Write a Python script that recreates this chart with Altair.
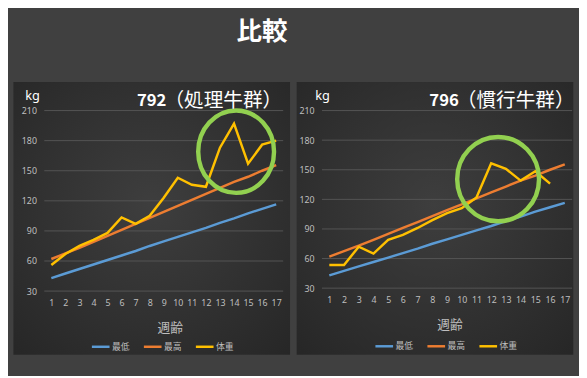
import altair as alt
import pandas as pd

# ---------------- data ----------------
weeks = list(range(1, 18))
low_kg = [43, 47.5, 52, 56.5, 61, 65.5, 70, 75, 79.5, 84, 88.5, 93, 98, 102.5, 107.5, 112, 116.5]
high_kg = [62, 67.5, 73, 79, 85, 91, 97, 103, 109, 115, 121, 127, 133, 139, 144, 150, 155.5]

weeks_792 = list(range(1, 18))
body_792 = [56, 67, 75, 81, 88, 103.5, 97, 105, 123, 143, 136, 134, 173, 197, 157, 176, 180]

weeks_796 = list(range(1, 17))
body_796 = [53.5, 53.5, 72, 65, 79, 84, 91, 99, 106, 111, 122, 156.5, 151, 139, 148.5, 136]

series_names = ["最低", "最高", "体重"]
series_colors = ["#5b9bd5", "#ed7d31", "#ffc000"]
y_ticks = [30, 60, 90, 120, 150, 180, 210]

circle_792_week = [14.15]
circle_792_kg = [169]
circle_796_week = [12.47]
circle_796_kg = [140.5]

CJK = "Noto Sans CJK JP"
LABEL = "#bfbfbf"


def panel(b_weeks, b_vals, W, H, num, rest, num_x, kg_x, c_week, c_kg, c_size, c_ratio,
          axis_title_x, leg_x, leg_y, bg_l, bg_r, bg_b):
    rows = []
    for w, v in zip(weeks, low_kg):
        rows.append({"week": w, "kg": v, "series": "最低"})
    for w, v in zip(weeks, high_kg):
        rows.append({"week": w, "kg": v, "series": "最高"})
    for w, v in zip(b_weeks, b_vals):
        rows.append({"week": w, "kg": v, "series": "体重"})
    df = pd.DataFrame(rows)

    xscale = alt.Scale(domain=[0.5, 17.5], nice=False, zero=False)
    yscale = alt.Scale(domain=[30, 210], nice=False, zero=False)
    xaxis = alt.Axis(values=weeks, grid=False, domain=False, ticks=False, zindex=1,
                     labelPadding=8, labelFontSize=9, labelColor=LABEL,
                     labelFont="Noto Sans", labelFlush=False, labelOverlap=False,
                     title="週齢", titleFont=CJK, titleFontSize=13,
                     titleFontWeight="normal", titleColor=LABEL,
                     titleY=37, titleX=axis_title_x, titleBaseline="middle")
    yaxis = alt.Axis(values=y_ticks, grid=False, domain=False, ticks=False, zindex=1,
                     labelPadding=8, labelFontSize=9, labelColor=LABEL,
                     labelFont="Noto Sans", labelFlush=False, title=None)
    xenc = alt.X("week:Q", scale=xscale, axis=xaxis)
    yenc = alt.Y("kg:Q", scale=yscale, axis=yaxis)

    grad = alt.RadialGradient(
        gradient="radial",
        stops=[alt.GradientStop(color="#3e3e3e", offset=0),
               alt.GradientStop(color="#262626", offset=1)],
        x1=0.5, y1=0.45, r1=0, x2=0.5, y2=0.45, r2=0.75,
    )
    bg = alt.Chart(pd.DataFrame({"a": [0]})).mark_rect(fill=grad, strokeWidth=0).encode(
        x=alt.value(bg_l), x2=alt.value(W + bg_r), y=alt.value(-29), y2=alt.value(H + bg_b)
    )

    grid = alt.Chart(pd.DataFrame({"kg": y_ticks})).mark_rule(
        color="#555555", strokeWidth=1
    ).encode(y=yenc, x=alt.value(0), x2=alt.value(W))

    lines = alt.Chart(df).mark_line(strokeWidth=2.5).encode(
        x=xenc,
        y=yenc,
        color=alt.Color("series:N",
                        scale=alt.Scale(domain=series_names, range=series_colors),
                        legend=alt.Legend(orient="none", legendX=leg_x, legendY=leg_y,
                                          direction="horizontal", title=None,
                                          symbolType="stroke", symbolSize=324,
                                          symbolStrokeWidth=2.5, labelFontSize=9,
                                          labelColor=LABEL, labelFont=CJK,
                                          columnPadding=8, labelOffset=1, padding=0)),
    )

    r = c_ratio
    ellipse = f"M -{r} 0 A {r} 1 0 1 1 {r} 0 A {r} 1 0 1 1 -{r} 0 Z"
    circ = alt.Chart(pd.DataFrame({"week": c_week, "kg": c_kg})).mark_point(
        shape=ellipse, filled=False, color="#92d050", strokeWidth=4.5, size=c_size, opacity=1
    ).encode(x=xenc, y=yenc)

    tdf = pd.DataFrame({"num": [num], "rest": [rest], "unit": ["kg"]})
    t_num = alt.Chart(tdf).mark_text(align="right", baseline="middle", fontSize=17,
                                     fontWeight="bold", color="white", font=CJK).encode(
        x=alt.value(num_x), y=alt.value(-10), text="num:N")
    t_rest = alt.Chart(tdf).mark_text(align="left", baseline="middle", fontSize=20,
                                      fontWeight="normal", color="white", font=CJK).encode(
        x=alt.value(num_x - 2), y=alt.value(-10), text="rest:N")
    t_kg = alt.Chart(tdf).mark_text(align="left", baseline="middle", fontSize=13,
                                    color="white", font="Noto Sans").encode(
        x=alt.value(kg_x), y=alt.value(-15), text="unit:N")

    return alt.layer(bg, grid, lines, circ, t_num, t_rest, t_kg).properties(width=W, height=H)


left = panel(weeks_792, body_792, 243.5, 184, "792", "（処理牛群）", 124.5, -19.5,
             circle_792_week, circle_792_kg, 84 ** 2, 0.92, 128, 47, 230, -31.5, 7, 65)
right = panel(weeks_796, body_796, 255, 181, "796", "（慣行牛群）", 139.5, -6.8,
              circle_796_week, circle_796_kg, 86 ** 2, 0.97, 130, 53, 229.5, -25.8, 1.2, 68)

chart = alt.hconcat(left, right, spacing=6).resolve_scale(
    x="independent", y="independent", color="independent"
).resolve_legend(color="independent").properties(
    title=alt.TitleParams("比較", anchor="start", frame="group", color="white",
                          fontSize=26, fontWeight="bold", font=CJK, offset=38, dx=196),
    padding={"left": 5, "top": 8, "right": 4, "bottom": 18},
    background="#404040",
).configure_view(stroke=None)

chart.save("out.html", embed_options={"renderer": "svg", "actions": False})
